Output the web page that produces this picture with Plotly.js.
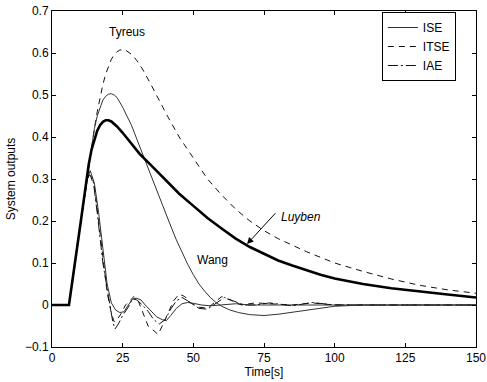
<!DOCTYPE html>
<html><head><meta charset="utf-8">
<script src="https://cdn.plot.ly/plotly-3.0.1.min.js"></script>
<style>html,body{margin:0;padding:0;background:#fff}#c{width:487px;height:382px}</style>
</head><body><div id="c"></div>
<script>
// Tyreus (dashed), Wang (thin solid), Luyben (thick solid)
var tTyreus = [0,6,10,13,14,15,16,17,18,19,20,21,22,23,24,25,26,27,28.5,30,32,35,38,41,45,50,55,60,65,70,75,80,85,90,100,110,120,130,140,150];
var yTyreus = [0,0,0.19,0.335,0.38,0.42,0.46,0.495,0.525,0.55,0.57,0.585,0.596,0.603,0.607,0.608,0.607,0.603,0.595,0.582,0.562,0.525,0.485,0.448,0.4,0.35,0.3,0.262,0.228,0.2,0.177,0.158,0.142,0.127,0.1,0.08,0.062,0.047,0.036,0.028];
var tWang = [0,6,10,13,14,15,16,17,18,19,20,21,22,23,24,25,26.5,28,30,32,34,36,38,40,42,44,46,48,50,52,54,56,58,60,63,66,70,75,80,85,90,95,100,110,150];
var yWang = [0,0,0.19,0.335,0.38,0.42,0.45,0.472,0.488,0.497,0.502,0.503,0.5,0.494,0.484,0.471,0.45,0.43,0.395,0.36,0.326,0.29,0.255,0.22,0.188,0.155,0.125,0.097,0.072,0.05,0.033,0.018,0.006,-0.003,-0.012,-0.018,-0.023,-0.025,-0.022,-0.017,-0.012,-0.007,-0.003,0,0];
var tLuyben = [0,6,10,13,14,15,16,17,18,19,20,21,23,25,28,31,35,40,45,50,55,60,65,70,75,80,85,90,95,100,110,120,130,140,150];
var yLuyben = [0,0,0.19,0.335,0.37,0.395,0.415,0.428,0.436,0.44,0.44,0.437,0.425,0.41,0.385,0.36,0.333,0.298,0.265,0.236,0.207,0.182,0.158,0.138,0.121,0.106,0.094,0.083,0.072,0.063,0.05,0.04,0.032,0.025,0.018];
// proposed responses
var tISE = [0,6,10,12.5,13.5,15,16.5,18,19.5,21,22.5,24,25.5,27,28.5,30,31.5,33,35,37,39,40.5,42,44,46,48,50,53,56,60,65,70,80,100,150];
var yISE = [0,0,0.19,0.3,0.32,0.29,0.22,0.13,0.05,0.005,-0.012,-0.018,-0.016,0,0.014,0.016,0.012,0,-0.015,-0.028,-0.035,-0.037,-0.025,-0.008,0.003,0.006,0.004,0,-0.002,0,0.003,0,0,0,0];
var tITSE = [0,6,10,12.5,13.3,15,16.5,18,19.5,21,22,23,24.5,26,28,29,30.5,32,34,35,36.5,37.5,39,41,43,45,47,49,52,55,58,60,63,67,72,78,85,92,100,150];
var yITSE = [0,0,0.19,0.3,0.315,0.28,0.2,0.11,0.03,-0.02,-0.04,-0.035,-0.02,0,0.015,0.02,0.01,-0.015,-0.05,-0.055,-0.065,-0.07,-0.05,-0.02,0.01,0.026,0.02,0.005,-0.005,-0.008,0.01,0.02,0.012,0,0.005,0.003,0,0.005,0,0];
var tIAE = [0,6,10,12.5,13.3,14.5,16,18,20,21.5,22.3,23.5,25,27,28.5,30,32,34,36,38,40,42,44,46,48,50,52,55,58,61,64,68,72,77,85,92,100,110,150];
var yIAE = [0,0,0.19,0.3,0.31,0.3,0.22,0.1,0.02,-0.04,-0.057,-0.045,-0.025,-0.005,0.015,0.012,0,-0.015,-0.035,-0.045,-0.035,-0.01,0.01,0.018,0.01,0,-0.008,-0.01,0.005,0.018,0.01,0,0,0.005,-0.002,0.006,0,0,0];

var F = 'Liberation Sans, Arial, sans-serif';
var traces = [
  {x:tISE, y:yISE, name:'ISE', mode:'lines', line:{color:'#333', width:1}},
  {x:tITSE, y:yITSE, name:'ITSE', mode:'lines', line:{color:'#111', width:1, dash:'6px,5px'}},
  {x:tIAE, y:yIAE, name:'IAE', mode:'lines', line:{color:'#111', width:1, dash:'10px,3px,2px,3px'}},
  {x:tTyreus, y:yTyreus, name:'Tyreus', mode:'lines', showlegend:false, line:{color:'#111', width:1, dash:'6px,5px'}},
  {x:tWang, y:yWang, name:'Wang', mode:'lines', showlegend:false, line:{color:'#333', width:1}},
  {x:tLuyben, y:yLuyben, name:'Luyben', mode:'lines', showlegend:false, line:{color:'#000', width:2.6}}
];
var axisCommon = {showline:true, linecolor:'#000', linewidth:1, mirror:'ticks', ticks:'inside', ticklen:4, tickcolor:'#000', showgrid:false, zeroline:false, tickfont:{family:F, size:12, color:'#000'}};
var layout = {
  width:487, height:382, margin:{l:52, r:11, t:11, b:35},
  paper_bgcolor:'#fff', plot_bgcolor:'#fff', font:{family:F, size:12, color:'#000'},
  xaxis: Object.assign({}, axisCommon, {range:[0,150], dtick:25, tick0:0, title:{text:'Time[s]', font:{family:F, size:12}, standoff:1}}),
  yaxis: Object.assign({}, axisCommon, {range:[-0.1,0.7], dtick:0.1, tick0:0, title:{text:'System outputs', font:{family:F, size:12}, standoff:6}}),
  showlegend:true,
  legend:{x:0.778, y:0.997, xanchor:'left', yanchor:'top', bgcolor:'#fff', bordercolor:'#000', borderwidth:1, font:{family:F, size:12}, tracegroupgap:0},
  annotations:[
    {x:26.6, y:0.65, text:'Tyreus', showarrow:false, font:{family:F, size:12}},
    {x:56.7, y:0.107, text:'Wang', showarrow:false, font:{family:F, size:12}},
    {x:88.2, y:0.21, text:'<i>Luyben</i>', showarrow:false, font:{family:F, size:12}},
    {x:69, y:0.145, ax:79.5, ay:0.222, axref:'x', ayref:'y', text:'', showarrow:true, arrowhead:2, arrowsize:1.3, arrowwidth:1, arrowcolor:'#000'}
  ]
};
Plotly.newPlot('c', traces, layout, {displayModeBar:false, staticPlot:true});
</script></body></html>
